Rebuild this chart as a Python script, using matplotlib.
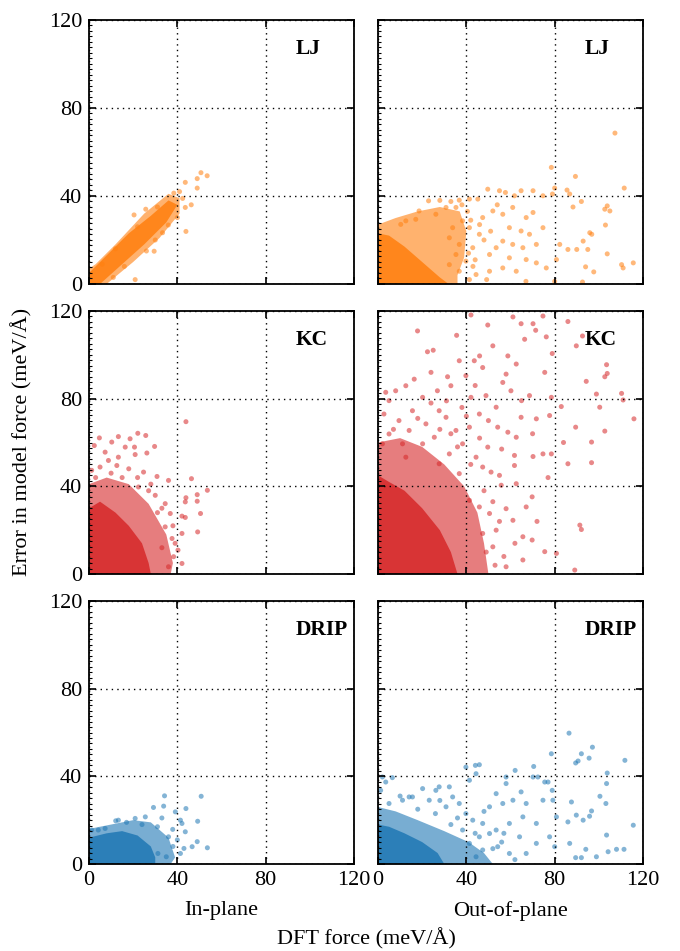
import matplotlib.pyplot as plt
from matplotlib.patches import Polygon
from matplotlib.ticker import MultipleLocator

plt.rcParams['font.family'] = ['Liberation Serif', 'DejaVu Serif']

# colours per model
c_lj = "#ff7f0e"
c_kc = "#d62728"
c_drip = "#1f77b4"

# ---------------------------------------------------------------------------------------------
# LJ, in-plane
lj_in_core = [(0, 0), (5, 0), (15, 9), (25, 18), (35, 28), (40, 36), (36, 38),
              (28, 31), (18, 23), (8, 13), (0, 5)]
lj_in_mid = [(0, 0), (8, 0), (20, 10), (32, 21), (41, 32), (41, 39), (36, 41),
             (25, 32), (12, 18), (3, 9), (0, 7)]
lj_in_pts = [(50.7, 50.6), (53.5, 49.2), (49, 47.9), (49, 43.6), (43.6, 46.2), (41, 42),
             (42.4, 38.9), (46.3, 36), (43.6, 34.8), (43.9, 23.9), (40, 30.2), (35.9, 26.8),
             (33.3, 23.3), (29.5, 14.9), (20.9, 2), (20.4, 31.4), (25.7, 34), (38.4, 41.3),
             (30, 20), (26, 15), (16, 8), (11, 3), (6, 9), (12, 16), (22, 26), (31, 35)]

# LJ, out-of-plane
lj_out_core = [(0, 0), (0, 23), (5, 22), (12, 17), (20, 10), (28, 3), (32, 0)]
lj_out_mid = [(0, 0), (0, 27), (8, 30), (18, 33), (28, 35), (37, 33), (40, 24),
              (39, 12), (36, 4), (36, 0)]
lj_out_pts = [(107.3, 68.6), (78.5, 53), (89.4, 48.9), (111.5, 43.6), (80, 43.6), (79, 40.9),
              (85.6, 42.7), (86.8, 40.9), (103.8, 35.5), (102.7, 34), (105, 33.2), (88.3, 35),
              (92.1, 37.5), (103, 26.8), (95.9, 23.3), (96.8, 22.6), (92.9, 19.5), (86, 15.7),
              (90, 15.7), (95, 15.7), (103.8, 13.7), (94, 7.8), (97.7, 5.5), (110.3, 8.8),
              (115.6, 9.6), (111, 7.3), (92.6, 0.9), (80, 1.2), (80.8, 11.1), (82.3, 18),
              (74.7, 25.6), (70.2, 32.5), (74.7, 40.1), (70.2, 42.4), (64.8, 42.4), (61.8, 40.1),
              (57.7, 41.6), (55, 42.4), (49.7, 43.1), (45.2, 38.6), (41.4, 38.6), (36.8, 38.1),
              (22.9, 37.8), (26.2, 31.7), (30.8, 34.8), (35.3, 34.8), (18.6, 33.2), (17.1, 29.4),
              (12.6, 28.7), (10.3, 27.1), (61, 34.8), (67.1, 30.2), (56.5, 31.7), (52, 33.2),
              (47.4, 30.2), (59.5, 25.6), (64.8, 24.1), (68.6, 22.6), (71.7, 18), (65.6, 16.5),
              (61, 18), (56.5, 19.5), (53.5, 16.5), (50.5, 13.4), (59.5, 11.9), (67.1, 11.1),
              (71.7, 9.6), (76.2, 7.3), (62.6, 5.8), (56.5, 7.3), (50.5, 5.8), (44.4, 4.3),
              (49.2, 2), (67, 1.2), (41.4, 2), (39.8, 10.4), (42.9, 16.5), (45.9, 22.6),
              (41.4, 25.6), (38.3, 28.7), (33.8, 25.6), (32.3, 21), (36.8, 18), (35.3, 13.4),
              (32.3, 8.8), (36.8, 5.8), (46, 27), (51, 24), (54, 36), (48, 20), (44, 11),
              (40.5, 33), (42, 29), (43, 8), (41, 14), (38, 36), (33, 37.5), (28, 38)]

# KC, in-plane
kc_in_core = [(0, 0), (0, 30), (5, 33), (12, 28), (18, 22), (24, 14), (27, 5), (28, 0)]
kc_in_mid = [(0, 0), (0, 41), (8, 44), (18, 41), (27, 32), (35, 18), (38, 5), (37, 0)]
kc_in_pts = [(43.9, 69.5), (4.7, 62.1), (13.3, 62.7), (18.6, 61.7), (22.1, 64.2), (25.7, 63.2),
             (2.4, 58.6), (10.3, 60.2), (16.4, 57.9), (20.6, 57.9), (20.9, 54.5), (26.2, 55.2),
             (29.7, 58.2), (7.3, 55.6), (13.3, 53.3), (8.8, 51.8), (1.2, 47.3), (5, 48.8),
             (12.6, 49.5), (18, 48), (24.7, 46.5), (30.8, 44.5), (36, 42.7), (46.4, 43.5),
             (53.6, 38.2), (49, 36.2), (43.9, 34.8), (43.6, 32.9), (49, 33.2), (50.5, 27.6),
             (42.1, 26.4), (43.6, 25.8), (49.2, 19.2), (42.1, 18.5), (42.1, 4.8), (40.3, 10.9),
             (37.6, 16.2), (34.5, 21.5), (36.8, 27.6), (30, 35.9), (22.4, 39.7), (34.5, 32.1),
             (38.3, 7.9), (36, 3.3), (31, 28), (27, 38), (15, 44), (33, 12), (3, 44), (10, 46),
             (22, 44), (28, 41), (39, 14), (38, 22), (33, 30)]

# KC, out-of-plane
kc_out_core = [(0, 0), (0, 45), (5, 42), (12, 38), (20, 30), (28, 20), (33, 10), (36, 0)]
kc_out_mid = [(0, 0), (0, 60), (10, 62), (20, 58), (30, 50), (39, 40), (45, 28), (48, 14),
              (50, 0)]
kc_out_pts = [(17.9, 110.9), (22.4, 101.4), (25, 102.1), (35.6, 108.9), (42.1, 118.2),
              (49.7, 113.6), (61.1, 117.3), (64.8, 114.2), (70.2, 114.2), (74.7, 117.7),
              (71.4, 111.2), (76.2, 108.2), (66.4, 107.1), (86, 115.2), (92.6, 108.6),
              (89.8, 104.1), (103.5, 95.5), (103.8, 91.5), (102.7, 90), (94.3, 87.9),
              (98.9, 82.1), (110.3, 82.4), (111, 79.4), (115.9, 70.8), (100.4, 76.1),
              (102.7, 65.2), (96.7, 60.2), (96.7, 50.8), (86, 50.3), (89.5, 67), (83, 76.4),
              (78.5, 80.6), (78.9, 100.6), (75.5, 92), (68.6, 81.4), (65, 79.1), (60.2, 83.6),
              (56.5, 87.4), (58, 91.2), (52, 104.1), (58.8, 99.5), (62.6, 95.8), (47.4, 94.2),
              (43.6, 97.3), (46, 99.5), (36.8, 97.3), (39.8, 90.5), (31.5, 90), (26.9, 83.6),
              (33, 85.9), (42.1, 80.6), (48.9, 81.4), (53.5, 76.1), (64.8, 71.5), (71.7, 70.8),
              (77.7, 72.3), (74.7, 54.8), (78.5, 54.8), (70.2, 53.6), (61.8, 54.1), (61.8, 49.5),
              (55, 45), (51.2, 46.5), (49.7, 57.9), (58.8, 64.7), (62.6, 62.4), (54.2, 67),
              (45.9, 73), (41.4, 67), (35.3, 65.5), (38.3, 59.4), (44.4, 53.3), (47.4, 48.8),
              (55.8, 40.5), (62.6, 41.2), (69.8, 35.2), (67.1, 30.6), (58, 29.8), (61.1, 24.5),
              (53.5, 20), (65.6, 17), (69.8, 15.5), (75.5, 10.2), (80.8, 9.4), (91.4, 22.3),
              (92.1, 20.3), (89.1, 1.8), (65.6, 6.4), (58, 3.3), (52, 12.4), (47.4, 18.5),
              (45.9, 30.6), (50.5, 27.6), (41.4, 33.6), (8, 83.6), (3.5, 82.9), (5, 79.1),
              (12.6, 85.9), (16.4, 88.9), (20.2, 80.6), (27.7, 74.5), (15.6, 74.5), (9.5, 70),
              (2.7, 73), (5, 63.9), (14.1, 65.5), (21.7, 68.5), (30.8, 71.5), (25.5, 62.4),
              (20.2, 59.4), (11.1, 59.4), (2, 59.4), (32.3, 54.8), (36.8, 45.8), (27.7, 50.3),
              (12.6, 53.3), (38, 76), (44, 86), (50, 70), (56, 57), (33, 64), (24, 92),
              (57, 8), (62, 14), (72, 24), (77, 44), (84, 60), (70, 64), (18, 71), (28, 66),
              (36, 58), (42, 50), (48, 38), (52, 33), (55, 24), (53, 4), (49, 10), (24, 78),
              (7, 66), (31, 79), (40, 72), (46, 62)]

# DRIP, in-plane
drip_in_core = [(0, 0), (0, 12), (8, 14), (15, 15), (22, 13), (28, 8), (30, 3), (30, 0)]
drip_in_mid = [(0, 0), (0, 16), (10, 18), (20, 20), (28, 19), (36, 12), (39, 3), (37, 0)]
drip_in_pts = [(50.8, 30.9), (34.2, 31.1), (43.9, 25.3), (33.8, 26.4), (29.2, 25.8),
               (39.1, 23.8), (25.5, 21.5), (20.9, 20.8), (13.3, 20), (12.1, 19.7), (7.3, 16.2),
               (4.2, 15.5), (1.2, 15.5), (49.2, 19.5), (41.4, 20), (43.6, 14.7), (42.1, 18.5),
               (49, 10.2), (53.6, 7.4), (46.7, 7.9), (43, 7.1), (41.4, 4.8), (35, 3.3),
               (31.2, 4.8), (36, 12.4), (37.9, 15.8), (31, 17), (24, 18), (38, 8), (33, 21),
               (17, 19), (40, 11)]

# DRIP, out-of-plane
drip_out_core = [(0, 0), (0, 18), (5, 17), (12, 14), (20, 10), (27, 5), (30, 0)]
drip_out_mid = [(0, 0), (0, 26), (8, 24), (18, 20), (30, 15), (41, 10), (48, 5), (52, 0)]
drip_out_pts = [(86.5, 59.7), (97.1, 53.3), (92.1, 50.3), (95.6, 48.3), (78.5, 50.3),
                (89.5, 46.1), (90.6, 47), (111.8, 47.3), (103.8, 41.5), (103.5, 36.7),
                (70.5, 44.5), (62.1, 42.7), (44.1, 45), (45.9, 45.3), (39.8, 44.2), (41.4, 38.2),
                (44.4, 41.2), (58, 39.7), (58, 36.7), (70.2, 39.7), (72.4, 39.7), (75.5, 37.4),
                (77, 37.4), (78.9, 33.6), (79.2, 29.1), (74.7, 29.1), (87.6, 28.3), (100.5, 30.9),
                (103.2, 27.6), (96.7, 24.2), (89.8, 22.3), (92.9, 20), (103.5, 13.2),
                (115.6, 17.7), (95.8, 21.8), (86, 19.2), (80.8, 21.5), (80, 7.9), (86.8, 9.4),
                (89.5, 2.9), (92.1, 2.9), (94.1, 6.7), (104.2, 5.6), (108, 6.7), (111.4, 6.7),
                (98.9, 3.3), (64.8, 32.9), (67.1, 27.6), (61.1, 29.1), (56.5, 27.6), (53.5, 32.1),
                (50.5, 26.1), (65.6, 21.5), (71.7, 18.5), (59.5, 18.5), (53.5, 15.5),
                (64.1, 12.4), (71.7, 9.4), (77.7, 12.4), (67.1, 4.8), (59.5, 4.8), (54.2, 7.9),
                (47.4, 6.4), (44.4, 3.3), (32.3, 35.2), (27.7, 35.2), (26.2, 33.6), (20.2, 34.4),
                (15.6, 30.6), (14.1, 30.6), (3.5, 37.4), (2, 39.7), (6.5, 39.4), (1.2, 33.6),
                (5, 27.6), (11.1, 29.1), (23.2, 29.1), (33.8, 30.6), (36.8, 27.6), (30.8, 26.1),
                (39.8, 23), (42.9, 20), (47.4, 18.5), (38.3, 15.5), (45.9, 12.4), (41.4, 9.4),
                (50.5, 13.9), (36, 21), (48, 24), (56, 10), (62, 2), (26, 23), (18, 25),
                (10, 31), (33, 18), (44, 14), (52, 7), (57, 14), (28, 29)]

panels = [
    [("LJ", c_lj, lj_in_core, lj_in_mid, lj_in_pts),
     ("LJ", c_lj, lj_out_core, lj_out_mid, lj_out_pts)],
    [("KC", c_kc, kc_in_core, kc_in_mid, kc_in_pts),
     ("KC", c_kc, kc_out_core, kc_out_mid, kc_out_pts)],
    [("DRIP", c_drip, drip_in_core, drip_in_mid, drip_in_pts),
     ("DRIP", c_drip, drip_out_core, drip_out_mid, drip_out_pts)],
]

ticks = [0, 40, 80, 120]
W, H = 680, 951

# axes boxes in pixels: (left, right), (top, bottom)
cols_px = [(89, 354), (378, 643)]
rows_px = [(20, 284), (311, 574), (601, 864)]

fig = plt.figure(figsize=(W / 100, H / 100), dpi=100)

for r, row in enumerate(panels):
    for c, (name, color, core, mid, pts) in enumerate(row):
        x0, x1 = cols_px[c]
        y0, y1 = rows_px[r]
        ax = fig.add_axes([x0 / W, 1 - y1 / H, (x1 - x0) / W, (y1 - y0) / H])

        ax.add_patch(Polygon(mid, closed=True, facecolor=color, edgecolor="none",
                             alpha=0.6, zorder=1))
        ax.add_patch(Polygon(core, closed=True, facecolor=color, edgecolor="none",
                             alpha=0.85, zorder=1))
        xs = [p[0] for p in pts]
        ys = [p[1] for p in pts]
        ax.scatter(xs, ys, s=13, color=color, alpha=0.55, edgecolors="none", zorder=2)

        ax.set_xlim(0, 120)
        ax.set_ylim(0, 120)
        ax.set_xticks(ticks)
        ax.set_yticks(ticks)
        ax.yaxis.set_minor_locator(MultipleLocator(2.5))
        ax.grid(True, color="black", linestyle=(0, (1, 3)), linewidth=1, zorder=3)
        ax.set_axisbelow(False)
        ax.tick_params(which="major", direction="in", top=True, right=True, length=5,
                       width=1.2, labelsize=16, pad=5)
        ax.tick_params(axis="y", which="minor", direction="in", left=True, right=False,
                       length=2, width=0.8)
        for sp in ax.spines.values():
            sp.set_linewidth(1.3)
        if c == 1:
            ax.set_yticklabels([])
        if r < 2:
            ax.set_xticklabels([])
        ax.text(0.78, 0.89, name, transform=ax.transAxes, fontsize=15.5,
                fontweight="bold", va="center", ha="left")

fig.text(221 / W, 1 - 911 / H, "In-plane", ha="center", va="center", fontsize=16)
fig.text(510 / W, 1 - 911 / H, "Out-of-plane", ha="center", va="center", fontsize=16)
fig.text(366 / W, 1 - 939 / H, "DFT force (meV/Å)", ha="center", va="center", fontsize=16)
fig.text(22 / W, 1 - 442 / H, "Error in model force (meV/Å)", ha="center", va="center",
         rotation=90, fontsize=16)

fig.savefig("out.png", dpi=100)
